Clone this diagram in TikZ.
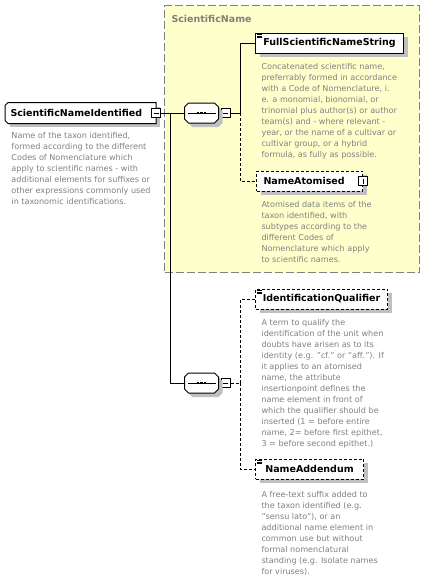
\documentclass[tikz,border=0pt]{standalone}
\usepackage{fontspec}
\setmainfont{DejaVu Sans}
\usetikzlibrary{positioning,calc,shadows}
\definecolor{groupfill}{HTML}{FFFFCC}
\definecolor{groupline}{HTML}{808080}
\definecolor{descgray}{HTML}{808080}
\definecolor{shadowgray}{HTML}{C0C0C0}
% octagon round a node, shifted by #2 to the right and down
\newcommand{\octagonpath}[2]{($(#1.north west)+(4+#2,#2)$) -- ($(#1.north east)+(-4+#2,#2)$) -- ($(#1.north east)+(#2,4+#2)$) -- ($(#1.south east)+(#2,-4+#2)$) -- ($(#1.south east)+(-4+#2,#2)$) -- ($(#1.south west)+(4+#2,#2)$) -- ($(#1.south west)+(#2,-4+#2)$) -- ($(#1.north west)+(#2,4+#2)$) -- cycle}

\begin{document}
\begin{tikzpicture}[x=1pt, y=-1pt, line width=1pt]
    % Estilos
    \tikzstyle{shade}=[drop shadow={shadow xshift=4pt, shadow yshift=-4pt, fill=shadowgray, opacity=1}]
    \tikzstyle{elem}=[draw, fill=white, shade, minimum height=20pt, inner sep=0pt, font=\bfseries\fontsize{9.5}{11}\selectfont]
    \tikzstyle{optional}=[elem, dash pattern=on 3pt off 2pt]
    \tikzstyle{icon}=[path picture={\foreach \dy in {1.5pt,3pt,4.5pt} \draw[solid, line width=0.6pt] ([xshift=1.5pt, yshift=-\dy]path picture bounding box.north west) -- ++(5pt,0);}]
    \tikzstyle{seq}=[minimum width=33pt, minimum height=19pt, inner sep=0pt]
    \tikzstyle{minusbox}=[draw, solid, fill=white, minimum size=9pt, inner sep=0pt,
        path picture={\draw ([xshift=2pt]path picture bounding box.west) -- ([xshift=-2pt]path picture bounding box.east);}]
    \tikzstyle{plusbox}=[minusbox,
        path picture={\draw ([yshift=2pt]path picture bounding box.south) -- ([yshift=-2pt]path picture bounding box.north);}]
    \tikzstyle{desc}=[anchor=north west, inner sep=0pt, align=left, text=descgray, font=\fontsize{8.1}{11}\selectfont]
    \tikzstyle{optline}=[dash pattern=on 3pt off 2pt]

    \useasboundingbox (0,0) rectangle (438,579);

    % Grupo
    \node[draw=groupline, fill=groupfill, dash pattern=on 8pt off 3pt, minimum width=255pt, minimum height=267pt, anchor=north west] (sciName) at (164,5) {};
    \node[anchor=west, inner sep=0pt, text=groupline, font=\bfseries\fontsize{9.5}{11}\selectfont] (sciNameTitle) at (171,19) {ScientificName};

    % Nos
    \node[elem, draw=none, anchor=west, minimum width=150pt, text width=140pt, inner xsep=5pt, align=left] (root) at (5,113) {ScientificNameIdentified};
    \draw ($(root.north west)+(3,0)$) -- (root.north east) -- (root.south east) -- ($(root.south west)+(3,0)$) -- ($(root.south west)+(0,-3)$) -- ($(root.north west)+(0,3)$) -- cycle;
    \node[minusbox] (rootMinus) at (root.east) {};
    \node[desc] (rootDesc) at (11,132) {Name of the taxon identified,\\formed according to the different\\Codes of Nomenclature which\\apply to scientific names - with\\additional elements for suffixes or\\other expressions commonly used\\in taxonomic identifications.};

    \node[seq] (seqA) at (201.5,113) {};
    \node[minusbox, right=2pt of seqA] (seqAMinus) {};
    \node[seq] (seqB) at (201.5,383) {};
    \node[minusbox, right=2pt of seqB] (seqBMinus) {};
    \foreach \s in {seqA,seqB} {
        \fill[shadowgray] \octagonpath{\s}{4};
        \draw[fill=white] \octagonpath{\s}{0};
        \draw ($(\s.west)+(3,0)$) -- ($(\s.east)+(-3,0)$);
        \foreach \dx in {-3.5,0,3.5}
            \fill ($(\s.center)+(\dx-1.2,-1.2)$) rectangle ($(\s.center)+(\dx+1.2,1.2)$);
    }

    \node[elem, icon, anchor=west, minimum width=148pt] (fullName) at (255,43) {FullScientificNameString};
    \node[desc] (fullNameDesc) at (261,63) {Concatenated scientific name,\\preferrably formed in accordance\\with a Code of Nomenclature, i.\\e. a monomial, bionomial, or\\trinomial plus author(s) or author\\team(s) and - where relevant -\\year, or the name of a cultivar or\\cultivar group, or a hybrid\\formula, as fully as possible.};

    \node[optional, anchor=west, minimum width=106pt, text width=92pt, inner xsep=7pt, align=left] (nameAtomised) at (256,181) {NameAtomised};
    \node[plusbox] (nameAtomisedPlus) at (nameAtomised.east) {};
    \node[desc] (nameAtomisedDesc) at (261,201) {Atomised data items of the\\taxon identified, with\\subtypes according to the\\different Codes of\\Nomenclature which apply\\to scientific names.};

    \node[optional, icon, anchor=west, minimum width=132pt] (identQualifier) at (255,299) {IdentificationQualifier};
    \node[desc] (identQualifierDesc) at (261,319) {A term to qualify the\\identification of the unit when\\doubts have arisen as to its\\identity (e.g. "cf." or "aff."). If\\it applies to an atomised\\name, the attribute\\insertionpoint defines the\\name element in front of\\which the qualifier should be\\inserted (1 = before entire\\name, 2= before first epithet,\\3 = before second epithet.)};

    \node[optional, icon, anchor=west, minimum width=108pt] (nameAddendum) at (255,469) {NameAddendum};
    \node[desc] (nameAddendumDesc) at (261,491) {A free-text suffix added to\\the taxon identified (e.g.\\"sensu lato"), or an\\additional name element in\\common use but without\\formal nomenclatural\\standing (e.g. Isolate names\\for viruses).};

    % Pontos de ligacao
    \coordinate (jRoot) at (170,113);
    \coordinate (jA) at (240,113);
    \coordinate (jB) at (240,383);

    % Arestas
    \draw (rootMinus.east) -- (seqA.west);
    \draw (jRoot) |- (seqB.west);
    \draw (seqAMinus.east) -- (jA) |- (fullName.west);
    \draw[optline] (jA) |- (nameAtomised.west);
    \draw[optline] (seqBMinus.east) -- (jB) |- (identQualifier.west);
    \draw[optline] (jB) |- (nameAddendum.west);
\end{tikzpicture}
\end{document}
